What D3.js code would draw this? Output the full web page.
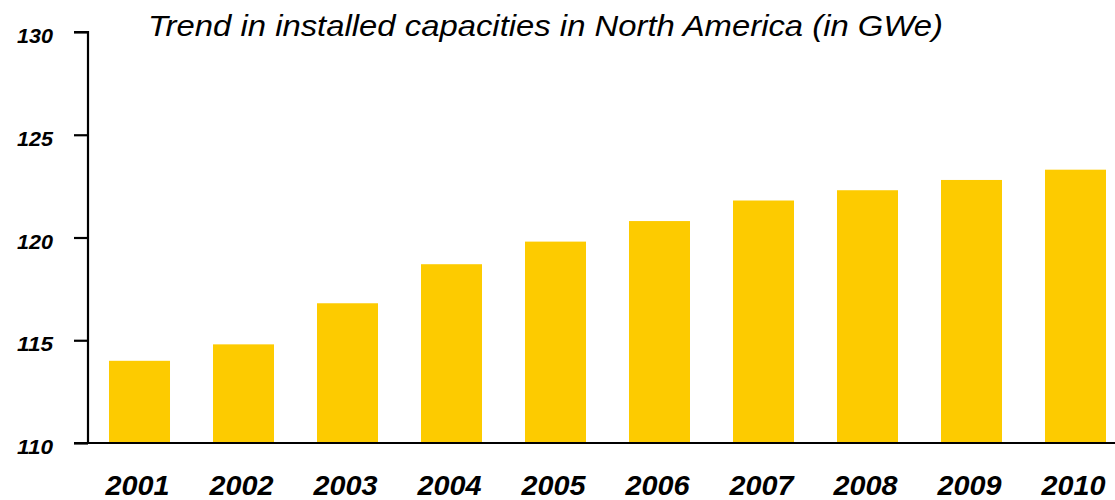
<!DOCTYPE html>
<html>
<head>
<meta charset="utf-8">
<script src="https://cdn.jsdelivr.net/npm/d3@7/dist/d3.min.js"></script>
<style>
  html, body { margin: 0; padding: 0; background: #fff; }
  svg { display: block; }
</style>
</head>
<body>
<svg id="chart" width="1115" height="500"></svg>
<script>
// Installed capacity, North America (GWe)
const years = ["2001", "2002", "2003", "2004", "2005", "2006", "2007", "2008", "2009", "2010"];
const capacities = [114.0, 114.8, 116.8, 118.7, 119.8, 120.8, 121.8, 122.3, 122.8, 123.3];
const yTicks = [110, 115, 120, 125, 130];
const titleText = "Trend in installed capacities in North America (in GWe)";

const svg = d3.select("#chart");
const font = "'Liberation Sans', Arial, sans-serif";

const axisX = 88;
const y = d3.scaleLinear().domain([110, 130]).range([443, 32]);
const x = d3.scaleBand()
  .domain(years)
  .range([axisX, 1127])
  .paddingInner(0.4135)
  .paddingOuter(0.202);

// bars
svg.append("g")
  .selectAll("rect")
  .data(years.map((yr, i) => ({ yr, v: capacities[i] })))
  .join("rect")
  .attr("x", d => x(d.yr))
  .attr("width", x.bandwidth())
  .attr("y", d => y(d.v))
  .attr("height", d => y(110) - y(d.v))
  .attr("fill", "#fdcb00");

// y axis
const yAxis = svg.append("g")
  .attr("transform", `translate(${axisX},0)`)
  .attr("font-family", font)
  .call(d3.axisLeft(y).tickValues(yTicks).tickSize(14).tickPadding(21).tickFormat(d3.format("d")));
yAxis.select(".domain").attr("stroke", "#000").attr("stroke-width", 2.2)
  .attr("d", `M-14,${y(130)}H0V${y(110)}`);
yAxis.selectAll(".tick line").attr("stroke", "#000").attr("stroke-width", 2.2);
yAxis.selectAll(".tick text")
  .style("font-family", font)
  .style("font-size", "21px")
  .style("font-weight", "bold")
  .style("font-style", "italic")
  .attr("fill", "#000")
  .attr("textLength", 36)
  .attr("lengthAdjust", "spacingAndGlyphs")
  .attr("dy", "0.5em");

// x axis
const xAxis = svg.append("g")
  .attr("transform", `translate(0,${y(110)})`)
  .call(d3.axisBottom(x).tickSize(0).tickPadding(10));
xAxis.select(".domain").attr("stroke", "#000").attr("stroke-width", 2.2)
  .attr("d", `M${axisX - 14},0H1115`);
xAxis.selectAll(".tick text")
  .style("font-family", font)
  .style("font-size", "28px")
  .style("font-weight", "bold")
  .style("font-style", "italic")
  .attr("fill", "#000")
  .attr("textLength", 64)
  .attr("lengthAdjust", "spacingAndGlyphs")
  .attr("dy", "0")
  .attr("y", 52)
  .attr("dx", -2);

// title
svg.append("text")
  .attr("x", 148)
  .attr("y", 36)
  .style("font-family", font)
  .style("font-size", "29px")
  .style("font-style", "italic")
  .attr("fill", "#000")
  .attr("textLength", 795)
  .attr("lengthAdjust", "spacingAndGlyphs")
  .text(titleText);
</script>
</body>
</html>
